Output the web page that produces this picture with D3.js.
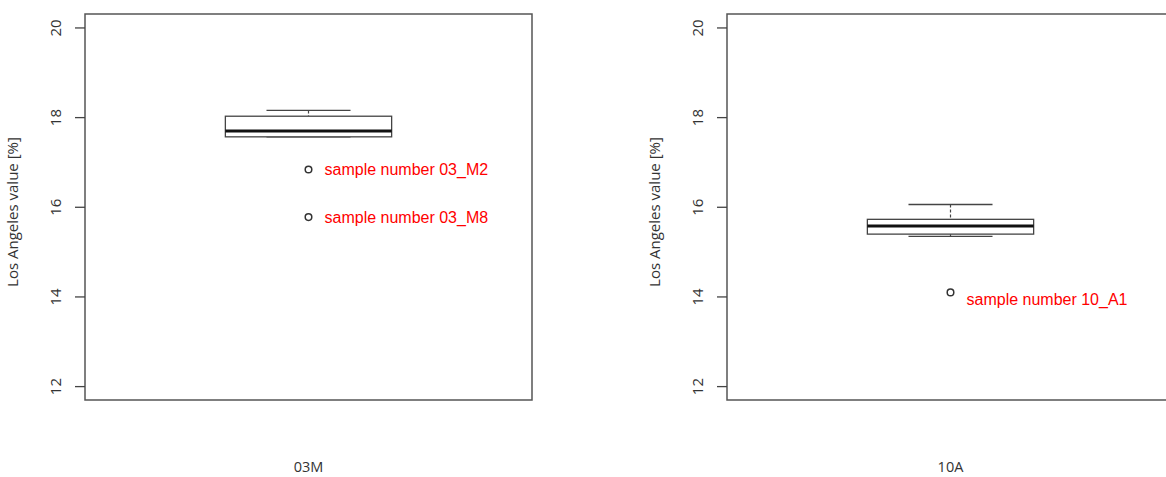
<!DOCTYPE html>
<html>
<head>
<meta charset="utf-8">
<script src="https://cdn.jsdelivr.net/npm/d3@7"></script>
<style>
  body { margin: 0; background: #fff; }
  svg text { font-family: "Open Sans", sans-serif; }
</style>
</head>
<body>
<div id="plot"></div>
<script>
// Box plot data, one entry per group
const groups = ["03M", "10A"];
const whiskerHigh = [18.15, 16.05];
const upperQuartile = [18.02, 15.72];
const medians = [17.69, 15.57];
const lowerQuartile = [17.56, 15.39];
const whiskerLow = [17.56, 15.34];
const outlierValues = [[16.83, 15.77], [14.09]];
const outlierLabels = [["sample number 03_M2", "sample number 03_M8"], ["sample number 10_A1"]];
const yTicks = [12, 14, 16, 18, 20];
const yLimits = [11.69, 20.3];
const yTitle = "Los Angeles value [%]";

// Layout
const W = 1166, H = 477;
const panelLeft = [85, 727];
const panelWidth = 447;
const plotTop = 14, plotBottom = 400;

const svg = d3.select("#plot")
  .append("svg")
  .attr("width", W)
  .attr("height", H);

const y = d3.scaleLinear()
  .domain(yLimits)
  .range([plotBottom, plotTop]);

groups.forEach((g, i) => {
  const panel = svg.append("g")
    .attr("transform", `translate(${panelLeft[i]},0)`);

  const x = d3.scaleLinear()
    .domain([0, 1])
    .range([0, panelWidth]);

  // frame
  panel.append("rect")
    .attr("x", x(0))
    .attr("y", plotTop)
    .attr("width", x(1) - x(0))
    .attr("height", plotBottom - plotTop)
    .attr("fill", "none")
    .attr("stroke", "#555")
    .attr("stroke-width", 1.5);

  // y axis
  const yAxis = d3.axisLeft(y)
    .tickValues(yTicks)
    .tickSize(10)
    .tickFormat(d3.format("d"));

  const ax = panel.append("g").call(yAxis);
  ax.select(".domain").remove();
  ax.selectAll(".tick line").attr("stroke", "#444").attr("stroke-width", 1.3);
  ax.selectAll(".tick text")
    .attr("x", 0)
    .attr("dy", "0.35em")
    .attr("transform", "translate(-29,0) rotate(-90)")
    .attr("text-anchor", "middle")
    .attr("fill", "#333")
    .style("font-size", "15px");

  // y title
  panel.append("text")
    .attr("transform", `translate(-67,${(plotTop + plotBottom) / 2 + 5}) rotate(-90)`)
    .attr("text-anchor", "middle")
    .attr("fill", "#333")
    .style("font-size", "15px")
    .text(yTitle);

  // x label
  panel.append("text")
    .attr("x", x(0.5))
    .attr("y", 472)
    .attr("text-anchor", "middle")
    .attr("fill", "#333")
    .style("font-size", "14.5px")
    .text(g);

  const cx = x(0.5);
  const boxHalf = x(0.186) - x(0);
  const capHalf = x(0.094) - x(0);

  // whiskers
  panel.append("line")
    .attr("x1", cx).attr("x2", cx)
    .attr("y1", y(whiskerHigh[i])).attr("y2", y(upperQuartile[i]))
    .attr("stroke", "#444").attr("stroke-width", 1.2)
    .attr("stroke-dasharray", "3,2");
  panel.append("line")
    .attr("x1", cx).attr("x2", cx)
    .attr("y1", y(lowerQuartile[i])).attr("y2", y(whiskerLow[i]))
    .attr("stroke", "#444").attr("stroke-width", 1.2)
    .attr("stroke-dasharray", "3,2");
  [whiskerHigh[i], whiskerLow[i]].forEach(v => {
    panel.append("line")
      .attr("x1", cx - capHalf).attr("x2", cx + capHalf)
      .attr("y1", y(v)).attr("y2", y(v))
      .attr("stroke", "#444").attr("stroke-width", 1.4);
  });

  // box
  panel.append("rect")
    .attr("x", cx - boxHalf)
    .attr("y", y(upperQuartile[i]))
    .attr("width", boxHalf * 2)
    .attr("height", y(lowerQuartile[i]) - y(upperQuartile[i]))
    .attr("fill", "#fff")
    .attr("stroke", "#444")
    .attr("stroke-width", 1.3);

  // median
  panel.append("line")
    .attr("x1", cx - boxHalf).attr("x2", cx + boxHalf)
    .attr("y1", y(medians[i])).attr("y2", y(medians[i]))
    .attr("stroke", "#111").attr("stroke-width", 3);

  // outliers
  outlierValues[i].forEach((v, j) => {
    panel.append("circle")
      .attr("cx", cx)
      .attr("cy", y(v))
      .attr("r", 3.3)
      .attr("fill", "none")
      .attr("stroke", "#333")
      .attr("stroke-width", 1.5);
    panel.append("text")
      .attr("x", cx + 16)
      .attr("y", y(v) + (i === 1 ? 7 : 0))
      .attr("dy", "0.35em")
      .attr("fill", "#f00")
      .style("font-family", "'Liberation Sans', Arial, sans-serif")
      .style("font-size", "16px")
      .text(outlierLabels[i][j]);
  });
});
</script>
</body>
</html>
